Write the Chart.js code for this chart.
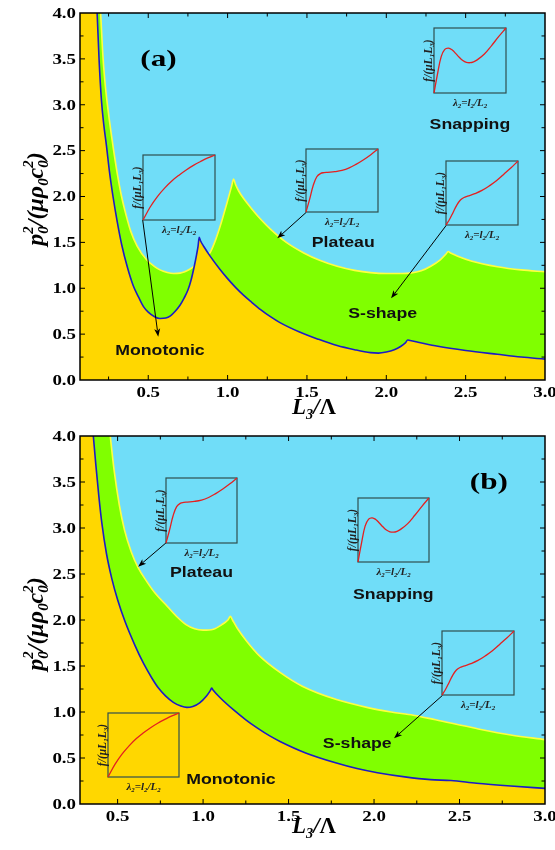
<!DOCTYPE html>
<html>
<head>
<meta charset="utf-8">
<script src="https://cdn.jsdelivr.net/npm/chart.js@4.4.0/dist/chart.umd.min.js"></script>
<style>
  html, body { margin: 0; padding: 0; background: #fff; }
  #wrap { position: relative; width: 555px; height: 850px; overflow: hidden; }
  #wrap canvas { position: absolute; }
</style>
</head>
<body>
<div id="wrap">
  <canvas id="chart-a" width="555" height="425" style="left:0;top:0"></canvas>
  <canvas id="chart-b" width="555" height="425" style="left:0;top:425px"></canvas>
</div>
<script>
/* 相圖 (a)(b)：藍線以下 Monotonic、藍黃之間 S-shape、黃線以上 Snapping，小圖為 f-λ 曲線示意 */

// ---- 資料 ----
var xTickVals = [0.5, 1.0, 1.5, 2.0, 2.5, 3.0];
var xTickLabels = ['0.5', '1.0', '1.5', '2.0', '2.5', '3.0'];
var yTickVals = [0, 0.5, 1.0, 1.5, 2.0, 2.5, 3.0, 3.5, 4.0];
var yTickLabels = ['0.0', '0.5', '1.0', '1.5', '2.0', '2.5', '3.0', '3.5', '4.0'];

// (a) 藍線 (Monotonic 上界)
var aBlueX = [0.07, 0.165, 0.178, 0.19, 0.205, 0.22, 0.237, 0.255, 0.278, 0.305, 0.332, 0.37, 0.405, 0.44, 0.47, 0.50, 0.54, 0.574, 0.61, 0.64, 0.67, 0.70, 0.725, 0.75, 0.77, 0.79, 0.805, 0.814, 0.821, 0.83, 0.85, 0.89, 0.95, 1.0, 1.05, 1.10, 1.15, 1.21, 1.27, 1.33, 1.45, 1.57, 1.69, 1.80, 1.90, 1.95, 2.0, 2.05, 2.09, 2.12, 2.135, 2.15, 2.2, 2.325, 2.5, 2.7, 2.85, 3.0];
var aBlueY = [6.0, 4.45, 4.0, 3.5, 3.05, 2.78, 2.55, 2.28, 2.0, 1.72, 1.48, 1.22, 1.03, 0.9, 0.8, 0.74, 0.69, 0.67, 0.675, 0.70, 0.75, 0.815, 0.89, 0.98, 1.09, 1.24, 1.37, 1.46, 1.555, 1.515, 1.455, 1.35, 1.21, 1.105, 1.01, 0.925, 0.85, 0.765, 0.69, 0.625, 0.525, 0.445, 0.375, 0.33, 0.298, 0.293, 0.305, 0.33, 0.365, 0.405, 0.436, 0.43, 0.412, 0.368, 0.322, 0.28, 0.25, 0.228];
// (a) 黃線 (Snapping 下界)
var aYelX = [0.07, 0.19, 0.2, 0.212, 0.226, 0.25, 0.278, 0.305, 0.332, 0.36, 0.39, 0.43, 0.49, 0.54, 0.574, 0.62, 0.66, 0.70, 0.73, 0.764, 0.80, 0.85, 0.89, 0.925, 0.954, 0.996, 1.025, 1.038, 1.05, 1.07, 1.10, 1.15, 1.207, 1.27, 1.37, 1.48, 1.58, 1.69, 1.80, 1.90, 2.0, 2.1, 2.15, 2.22, 2.28, 2.34, 2.375, 2.39, 2.405, 2.45, 2.54, 2.7, 2.85, 3.0];
var aYelY = [6.5, 4.3, 4.0, 3.6, 3.27, 2.9, 2.55, 2.25, 2.0, 1.8, 1.62, 1.46, 1.31, 1.235, 1.2, 1.172, 1.16, 1.165, 1.18, 1.21, 1.255, 1.32, 1.39, 1.53, 1.68, 1.93, 2.11, 2.19, 2.13, 2.06, 1.98, 1.87, 1.755, 1.645, 1.50, 1.385, 1.305, 1.24, 1.195, 1.17, 1.16, 1.16, 1.165, 1.19, 1.24, 1.31, 1.37, 1.40, 1.385, 1.35, 1.295, 1.235, 1.20, 1.18];

// (b) 藍線
var bBlueX = [0.28, 0.34, 0.358, 0.372, 0.39, 0.408, 0.435, 0.466, 0.50, 0.544, 0.60, 0.651, 0.70, 0.739, 0.78, 0.826, 0.87, 0.905, 0.94, 0.98, 1.02, 1.043, 1.05, 1.058, 1.10, 1.177, 1.25, 1.314, 1.39, 1.45, 1.6, 1.78, 1.9, 2.02, 2.18, 2.33, 2.45, 2.6, 2.8, 3.0];
var bBlueY = [6.0, 4.4, 4.0, 3.7, 3.35, 3.05, 2.72, 2.45, 2.22, 1.98, 1.73, 1.53, 1.37, 1.26, 1.175, 1.105, 1.065, 1.05, 1.06, 1.10, 1.175, 1.235, 1.26, 1.24, 1.155, 1.025, 0.915, 0.83, 0.74, 0.68, 0.555, 0.445, 0.385, 0.34, 0.295, 0.265, 0.255, 0.225, 0.195, 0.17];
// (b) 黃線
var bYelX = [0.28, 0.44, 0.457, 0.48, 0.51, 0.54, 0.58, 0.62, 0.67, 0.72, 0.79, 0.85, 0.90, 0.95, 1.0, 1.06, 1.11, 1.145, 1.16, 1.172, 1.2, 1.255, 1.33, 1.45, 1.58, 1.78, 1.97, 2.1, 2.23, 2.36, 2.6, 2.8, 3.0];
var bYelY = [7.0, 4.3, 4.0, 3.62, 3.25, 2.98, 2.74, 2.57, 2.42, 2.29, 2.15, 2.03, 1.95, 1.905, 1.89, 1.90, 1.95, 2.0, 2.04, 2.0, 1.91, 1.77, 1.61, 1.43, 1.28, 1.135, 1.045, 1.0, 0.965, 0.915, 0.82, 0.75, 0.70];

// 小圖 f-λ 曲線 (0~1 正規化)
var monoX = [0, 0.1, 0.2, 0.3, 0.4, 0.5, 0.6, 0.7, 0.8, 0.9, 1];
var monoY = [0, 0.2, 0.36, 0.49, 0.6, 0.69, 0.77, 0.84, 0.9, 0.955, 1];
var platX = [0, 0.05, 0.1, 0.15, 0.2, 0.25, 0.3, 0.4, 0.5, 0.6, 0.7, 0.8, 0.9, 1];
var platY = [0, 0.2, 0.42, 0.56, 0.61, 0.625, 0.63, 0.64, 0.66, 0.7, 0.76, 0.83, 0.91, 1];
var snapX = [0, 0.05, 0.1, 0.15, 0.2, 0.25, 0.3, 0.35, 0.4, 0.45, 0.5, 0.55, 0.6, 0.7, 0.8, 0.9, 1];
var snapY = [0, 0.3, 0.56, 0.67, 0.69, 0.665, 0.61, 0.55, 0.5, 0.472, 0.466, 0.48, 0.51, 0.6, 0.73, 0.87, 1];
var sshX = [0, 0.05, 0.1, 0.15, 0.2, 0.25, 0.3, 0.4, 0.5, 0.6, 0.7, 0.8, 0.9, 1];
var sshY = [0, 0.09, 0.2, 0.31, 0.39, 0.43, 0.45, 0.49, 0.54, 0.61, 0.69, 0.79, 0.89, 1];

// ---- 樣式 ----
var CYAN = '#70DDF8', GOLD = '#FFD700', GREEN = '#80FF00';
var BLUE = '#1C1CC4', YELLOW_LINE = '#FFFF40', RED = '#E42020', BOX = '#2F4F4F';
var SERIF = '"Liberation Serif", "Times New Roman", serif';
var SANS = '"Liberation Sans", Arial, sans-serif';
var MINOR = 0.25;

var SHAPES = {
  mono: [monoX, monoY], plat: [platX, platY], snap: [snapX, snapY], ssh: [sshX, sshY],
};

var Y_TITLE = [{ t: 'p' }, { t: '0', sub: 1, sup: '2' }, { t: '/(μρ' }, { t: '0', sub: 1 }, { t: 'c' }, { t: '0', sub: 1, sup: '2' }, { t: ')' }];
var X_TITLE = [{ t: 'L' }, { t: '3', sub: 1 }, { t: '/' }, { t: 'Λ', up: 1 }];
var INSET_Y = [{ t: 'f/(μL' }, { t: '1', sub: 1 }, { t: 'L' }, { t: '3', sub: 1 }, { t: ')' }];
var INSET_X = [{ t: 'λ' }, { t: '2', sub: 1 }, { t: '=l' }, { t: '2', sub: 1 }, { t: '/L' }, { t: '2', sub: 1 }];

function pts(xs, ys) { return xs.map(function (x, i) { return { x: x, y: ys[i] }; }); }

function segFont(opt, s) {
  var st = s.up ? 'bold' : (opt.style || 'bold');
  return st + ' ' + (s.sub ? opt.size * 0.62 : opt.size) + 'px ' + (opt.family || SERIF);
}
// 多段文字(含上下標)，y 為基線
function drawRich(ctx, segs, x, y, opt) {
  ctx.save();
  ctx.translate(x, y);
  if (opt.rot) ctx.rotate(opt.rot);
  ctx.scale(opt.sx || 1, 1);
  ctx.fillStyle = opt.color || '#000';
  ctx.textBaseline = 'alphabetic';
  ctx.textAlign = 'left';
  var widths = segs.map(function (s) {
    ctx.font = segFont(opt, s);
    var w = ctx.measureText(s.t).width;
    if (s.sup) w = Math.max(w, ctx.measureText(s.sup).width);
    return w;
  });
  var total = widths.reduce(function (a, b) { return a + b; }, 0);
  var cx = opt.align === 'center' ? -total / 2 : (opt.align === 'right' ? -total : 0);
  segs.forEach(function (s, i) {
    ctx.font = segFont(opt, s);
    ctx.fillText(s.t, cx, s.sub ? opt.size * 0.22 : 0);
    if (s.sup) ctx.fillText(s.sup, cx, -opt.size * 0.42);
    cx += widths[i];
  });
  ctx.restore();
}

function drawArrow(ctx, x0, y0, x1, y1) {
  var ang = Math.atan2(y1 - y0, x1 - x0), L = 8, W = 3;
  ctx.save();
  ctx.strokeStyle = '#000'; ctx.fillStyle = '#000'; ctx.lineWidth = 1;
  ctx.beginPath();
  ctx.moveTo(x0, y0);
  ctx.lineTo(x1 - Math.cos(ang) * L * 0.8, y1 - Math.sin(ang) * L * 0.8);
  ctx.stroke();
  ctx.translate(x1, y1); ctx.rotate(ang);
  ctx.beginPath(); ctx.moveTo(0, 0); ctx.lineTo(-L, -W); ctx.lineTo(-L * 0.75, 0); ctx.lineTo(-L, W); ctx.closePath();
  ctx.fill();
  ctx.restore();
}

function panelPlugin(cfg) {
  return {
    id: 'panel',
    beforeDraw: function (chart) {
      var a = chart.chartArea, ctx = chart.ctx;
      ctx.save();
      ctx.fillStyle = CYAN;
      ctx.fillRect(a.left, a.top, a.right - a.left, a.bottom - a.top);
      ctx.restore();
    },
    afterDraw: function (chart) {
      var ctx = chart.ctx, a = chart.chartArea, xs = chart.scales.x, ys = chart.scales.y;
      ctx.save();
      ctx.strokeStyle = '#000';
      ctx.lineWidth = 1.5;
      ctx.strokeRect(a.left, a.top, a.right - a.left, a.bottom - a.top);

      /* 刻度：四邊朝內 */
      ctx.lineWidth = 1;
      ctx.beginPath();
      var k, v, p, len;
      for (k = Math.ceil(xs.min / MINOR - 1e-9); k <= Math.floor(xs.max / MINOR + 1e-9); k++) {
        v = k * MINOR; p = xs.getPixelForValue(v);
        if (p < a.left + 1 || p > a.right - 1) continue;
        len = (k % 2 === 0) ? 5 : 3.5;
        ctx.moveTo(p, a.bottom); ctx.lineTo(p, a.bottom - len);
        ctx.moveTo(p, a.top); ctx.lineTo(p, a.top + len);
      }
      for (k = Math.ceil(ys.min / MINOR - 1e-9); k <= Math.floor(ys.max / MINOR + 1e-9); k++) {
        v = k * MINOR; p = ys.getPixelForValue(v);
        if (p < a.top + 1 || p > a.bottom - 1) continue;
        len = (k % 2 === 0) ? 5 : 3.5;
        ctx.moveTo(a.left, p); ctx.lineTo(a.left + len, p);
        ctx.moveTo(a.right, p); ctx.lineTo(a.right - len, p);
      }
      ctx.stroke();
      ctx.restore();

      /* 刻度標籤 */
      var tickOpt = { size: 14, style: 'bold', sx: 1.35 };
      xTickVals.forEach(function (tv, i) {
        drawRich(ctx, [{ t: xTickLabels[i] }], xs.getPixelForValue(tv), a.bottom + 17,
          Object.assign({ align: 'center' }, tickOpt));
      });
      yTickVals.forEach(function (tv, i) {
        drawRich(ctx, [{ t: yTickLabels[i] }], a.left - 4, ys.getPixelForValue(tv) + 4.8,
          Object.assign({ align: 'right' }, tickOpt));
      });

      /* 軸標題 */
      drawRich(ctx, X_TITLE, 314, a.bottom + cfg.xTitleGap, { size: 23, style: 'bold italic', align: 'center' });
      drawRich(ctx, Y_TITLE, 43, 199, { size: 24, style: 'bold italic', align: 'center', rot: -Math.PI / 2 });

      /* 面板標記 */
      drawRich(ctx, [{ t: cfg.label }], xs.getPixelForValue(cfg.labelAt[0]), ys.getPixelForValue(cfg.labelAt[1]) + 6,
        { size: 24, style: 'bold', align: 'center', sx: 1.3 });

      /* 箭頭：小圖左下角 → 區域 */
      cfg.insets.forEach(function (ins) {
        if (!ins.arrow) return;
        drawArrow(ctx, xs.getPixelForValue(ins.x0), ys.getPixelForValue(ins.y0),
          xs.getPixelForValue(ins.arrow[0]), ys.getPixelForValue(ins.arrow[1]));
      });

      /* 區域文字 */
      cfg.notes.forEach(function (n) {
        drawRich(ctx, [{ t: n.text }], xs.getPixelForValue(n.x), ys.getPixelForValue(n.y) + 5.4,
          { size: 15, style: 'bold', family: SANS, align: 'center', sx: 1.18, color: '#111' });
      });
    },
  };
}

var insetPlugin = {
  id: 'insetBox',
  beforeDatasetsDraw: function (chart) {
    var a = chart.chartArea, ctx = chart.ctx;
    ctx.save();
    ctx.strokeStyle = BOX; ctx.lineWidth = 1.2;
    ctx.strokeRect(a.left, a.top, a.right - a.left, a.bottom - a.top);
    ctx.restore();
  },
  afterDraw: function (chart) {
    var a = chart.chartArea, ctx = chart.ctx;
    drawRich(ctx, INSET_X, (a.left + a.right) / 2, a.bottom + 13, { size: 11, style: 'bold italic', align: 'center', color: '#222' });
    drawRich(ctx, INSET_Y, a.left - 2.5, (a.top + a.bottom) / 2, { size: 11.5, style: 'bold italic', align: 'center', rot: -Math.PI / 2, color: '#222' });
  },
};

var PL = 16, PT = 2, PR = 2, PB = 18;

function makeInset(main, topOffset, ins) {
  var xs = main.scales.x, ys = main.scales.y;
  var l = Math.round(xs.getPixelForValue(ins.x0)), r = Math.round(xs.getPixelForValue(ins.x1));
  var t = Math.round(ys.getPixelForValue(ins.y1)), b = Math.round(ys.getPixelForValue(ins.y0));
  var cv = document.createElement('canvas');
  cv.width = (r - l) + PL + PR;
  cv.height = (b - t) + PT + PB;
  cv.style.left = (l - PL) + 'px';
  cv.style.top = (topOffset + t - PT) + 'px';
  document.getElementById('wrap').appendChild(cv);
  var sh = SHAPES[ins.shape];
  return new Chart(cv, {
    type: 'line',
    data: { datasets: [{
      data: pts(sh[0], sh[1]), borderColor: RED, borderWidth: 1.3, pointRadius: 0,
      tension: 0.4, fill: false, clip: false,
    }] },
    options: {
      responsive: false, animation: false, events: [],
      layout: { padding: { left: PL, top: PT, right: PR, bottom: PB } },
      plugins: { legend: { display: false }, tooltip: { enabled: false } },
      scales: {
        x: { type: 'linear', display: false, min: 0, max: 1 },
        y: { display: false, min: 0, max: 1 },
      },
    },
    plugins: [insetPlugin],
  });
}

function makePanel(id, topOffset, cfg) {
  var chart = new Chart(document.getElementById(id), {
    type: 'line',
    data: { datasets: [
      { data: pts(cfg.blueX, cfg.blueY), borderColor: BLUE, borderWidth: 1.6, backgroundColor: GOLD,
        fill: 'origin', pointRadius: 0, cubicInterpolationMode: 'monotone', order: 0, clip: 0 },
      { data: pts(cfg.yelX, cfg.yelY), borderColor: YELLOW_LINE, borderWidth: 1.6, backgroundColor: GREEN,
        fill: 'origin', pointRadius: 0, cubicInterpolationMode: 'monotone', order: 1, clip: 0 },
    ] },
    options: {
      responsive: false, animation: false, events: [],
      layout: { padding: { top: cfg.padTop, right: 10, left: 0, bottom: 0 } },
      plugins: { legend: { display: false }, tooltip: { enabled: false } },
      scales: {
        x: { type: 'linear', min: cfg.xMin, max: 3.0,
          ticks: { display: false }, grid: { display: false }, border: { display: false },
          afterFit: function (s) { s.height = cfg.xAxisH; } },
        y: { type: 'linear', min: 0, max: 4,
          ticks: { display: false }, grid: { display: false }, border: { display: false },
          afterFit: function (s) { s.width = 80; } },
      },
    },
    plugins: [panelPlugin(cfg)],
  });
  cfg.insets.forEach(function (ins) { makeInset(chart, topOffset, ins); });
  return chart;
}

makePanel('chart-a', 0, {
  blueX: aBlueX, blueY: aBlueY, yelX: aYelX, yelY: aYelY,
  xMin: 0.07, padTop: 13, xAxisH: 45, xTitleGap: 34,
  label: '(a)', labelAt: [0.565, 3.49],
  insets: [
    { shape: 'mono', x0: 0.465, x1: 0.918, y0: 1.744, y1: 2.452, arrow: [0.563, 0.472] },
    { shape: 'plat', x0: 1.496, x1: 1.949, y0: 1.828, y1: 2.518, arrow: [1.313, 1.544] },
    { shape: 'snap', x0: 2.30, x1: 2.753, y0: 3.125, y1: 3.833 },
    { shape: 'ssh', x0: 2.378, x1: 2.832, y0: 1.686, y1: 2.39, arrow: [2.03, 0.89] },
  ],
  notes: [
    { text: 'Monotonic', x: 0.574, y: 0.327 },
    { text: 'Plateau', x: 1.729, y: 1.507 },
    { text: 'Snapping', x: 2.527, y: 2.79 },
    { text: 'S-shape', x: 1.977, y: 0.73 },
  ],
});

makePanel('chart-b', 425, {
  blueX: bBlueX, blueY: bBlueY, yelX: bYelX, yelY: bYelY,
  xMin: 0.28, padTop: 11, xAxisH: 46, xTitleGap: 29,
  label: '(b)', labelAt: [2.672, 3.49],
  insets: [
    { shape: 'plat', x0: 0.784, x1: 1.2, y0: 2.84, y1: 3.547, arrow: [0.62, 2.58] },
    { shape: 'mono', x0: 0.443, x1: 0.861, y0: 0.297, y1: 0.992 },
    { shape: 'snap', x0: 1.908, x1: 2.323, y0: 2.63, y1: 3.323 },
    { shape: 'ssh', x0: 2.4, x1: 2.819, y0: 1.18, y1: 1.884, arrow: [2.117, 0.714] },
  ],
  notes: [
    { text: 'Plateau', x: 0.991, y: 2.525 },
    { text: 'Monotonic', x: 1.163, y: 0.28 },
    { text: 'Snapping', x: 2.113, y: 2.283 },
    { text: 'S-shape', x: 1.902, y: 0.666 },
  ],
});
</script>
</body>
</html>
